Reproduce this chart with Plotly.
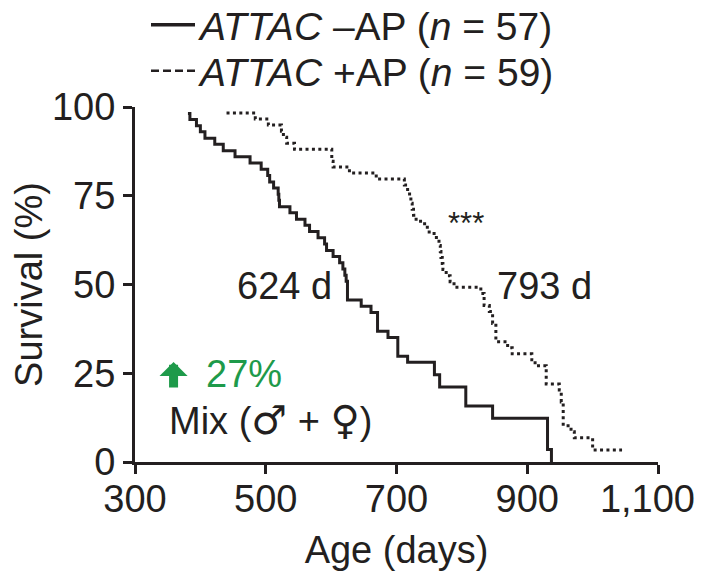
import plotly.graph_objects as go

# ---- data ----
minus_days = [381, 384, 394, 400, 407, 422, 435, 453, 476, 493, 503, 506, 512, 519, 520,
              521, 537, 547, 560, 567, 580, 590, 593, 603, 613, 618, 621, 623, 625, 646,
              661, 671, 687, 702, 717, 758, 766, 806, 847, 931, 937]
minus_surv = [98.2, 96.5, 94.7, 93.0, 91.2, 89.5, 87.7, 86.0, 84.2, 82.5, 80.7, 78.9, 77.2, 75.4, 73.7,
              71.9, 70.2, 68.4, 66.7, 64.9, 63.2, 61.4, 59.6, 57.9, 56.1, 54.4, 52.6, 50.9, 45.6, 43.9,
              42.1, 36.8, 35.1, 29.8, 28.1, 24.6, 21.1, 15.8, 12.3, 3.5, 0.0]

plus_days = [440, 484, 504, 524, 527, 532, 544, 601, 603, 628, 669, 712, 717, 720, 722,
             724, 726, 730, 743, 750, 761, 765, 767, 768, 770, 771, 776, 782, 788, 829,
             834, 842, 847, 852, 870, 877, 907, 912, 929, 949, 952, 955, 967, 972, 1000, 1045]
plus_surv = [98.3, 96.6, 94.9, 93.2, 91.5, 89.8, 88.1, 84.7, 83.1, 81.4, 79.7, 78.0, 76.3, 74.6, 72.9,
             71.2, 69.5, 67.8, 66.1, 64.4, 62.7, 61.0, 59.3, 57.6, 55.9, 54.2, 52.5, 50.8, 49.2, 47.5,
             44.1, 42.4, 39.0, 33.9, 32.2, 30.5, 28.8, 27.1, 22.0, 20.3, 16.9, 10.2, 8.5, 6.8, 3.4, 3.4]

x_ticks = [300, 500, 700, 900, 1100]
x_tick_labels = ["300", "500", "700", "900", "1,100\u00a0\u00a0"]
y_ticks = [0, 25, 50, 75, 100]

minus_name = "<i>ATTAC</i> –AP (<i>n</i> = 57)"
plus_name = "<i>ATTAC</i> +AP (<i>n</i> = 59)"
median_minus = "624 d"
median_plus = "793 d"
increase_label = "27%"
sex_label = ('Mix (<span style="font-family:DejaVu Sans;font-size:40px">♂</span> + '
             '<span style="font-family:DejaVu Sans;font-size:40px">♀</span>)')
signif = "***"

INK = "#231f20"
GREEN = "#1e9a4a"
FONT = "Liberation Sans, Arial, Helvetica, sans-serif"
FS = 38

# the page adds an 8 px body margin, so the figure is drawn 8 px smaller
W, H = 696, 565
M_L, M_R, M_T, M_B = 127, 46, 0, 111
PLOT_TOP_PX = 99
paper_h = H - M_T - M_B
y_dom_top = (H - M_B - PLOT_TOP_PX) / paper_h


def paper_y(py):
    return (H - M_B - py) / paper_h


def paper_x(px):
    return (px - M_L) / (W - M_L - M_R)


fig = go.Figure()

# survival curves
fig.add_trace(go.Scatter(x=minus_days, y=minus_surv, mode="lines", line_shape="hv",
                         line=dict(color=INK, width=3), showlegend=False, hoverinfo="skip"))
fig.add_trace(go.Scatter(x=plus_days, y=plus_surv, mode="lines", line_shape="hv",
                         line=dict(color=INK, width=3, dash="3px,3.4px"),
                         showlegend=False, hoverinfo="skip"))
# legend entries (one legend per row)
fig.add_trace(go.Scatter(x=[None], y=[None], mode="lines", line=dict(color=INK, width=3.5),
                         name=minus_name, legend="legend"))
fig.add_trace(go.Scatter(x=[None], y=[None], mode="lines",
                         line=dict(color=INK, width=2.5, dash="8px,4px"),
                         name=plus_name, legend="legend2"))

ann_font = dict(family=FONT, size=FS, color=INK)
fig.add_annotation(x=529, y=49.6, text=median_minus, showarrow=False, font=ann_font,
                   xanchor="center", yanchor="middle")
fig.add_annotation(x=926, y=49.6, text=median_plus, showarrow=False, font=ann_font,
                   xanchor="center", yanchor="middle")
fig.add_annotation(x=807, y=67.2, text=signif, showarrow=False,
                   font=dict(family=FONT, size=31, color=INK), xanchor="center", yanchor="middle")
# green up arrow
fig.add_annotation(x=359, y=28.2, ax=0, ay=27, text="", showarrow=True,
                   arrowhead=1, arrowwidth=9, arrowsize=0.52, arrowcolor=GREEN, standoff=0)
fig.add_annotation(x=406, y=24.8, text=increase_label, showarrow=False,
                   font=dict(family=FONT, size=FS, color=GREEN), xanchor="left", yanchor="middle")
fig.add_annotation(x=349, y=11.8, text=sex_label, showarrow=False, font=ann_font,
                   xanchor="left", yanchor="middle")

axis_common = dict(showline=True, linewidth=3, linecolor=INK, ticks="outside", ticklen=9,
                   tickwidth=3, tickcolor=INK, showgrid=False, zeroline=False, automargin=False,
                   tickfont=dict(family=FONT, size=FS, color=INK))

leg_common = dict(xanchor="left", yanchor="middle",
                  bgcolor="rgba(0,0,0,0)", font=dict(family=FONT, size=39, color=INK),
                  itemwidth=44)

fig.update_layout(
    width=W, height=H, autosize=False,
    margin=dict(l=M_L, r=M_R, t=M_T, b=M_B, autoexpand=False),
    paper_bgcolor="white", plot_bgcolor="white",
    font=dict(family=FONT, size=FS, color=INK),
    xaxis=dict(range=[300, 1100], tickvals=x_ticks, ticktext=x_tick_labels,
               ticklabeloverflow="allow", ticklabelstandoff=-8,
               title=dict(text="Age (days)", font=dict(family=FONT, size=FS, color=INK), standoff=18),
               **axis_common),
    yaxis=dict(range=[0, 100], tickvals=y_ticks, domain=[0, y_dom_top],
               title=dict(text="Survival (%)\u00a0", font=dict(family=FONT, size=FS, color=INK),
                          standoff=0),
               **axis_common),
    legend=dict(x=paper_x(138), y=paper_y(17), **leg_common),
    legend2=dict(x=paper_x(138), y=paper_y(63), **leg_common),
)

fig.write_html("out.html")
